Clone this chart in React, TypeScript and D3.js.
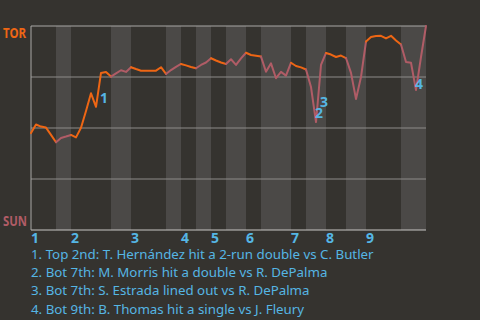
import React from "react";
import * as d3 from "d3";

// Plate appearances per half inning (top 1, bottom 1, top 2, ...)
const halfInningPAs = [5, 3, 8, 4, 7, 3, 3, 3, 3, 4, 3, 6, 3, 4, 4, 4, 7, 5];
const inningLabels = ["1", "2", "3", "4", "5", "6", "7", "8", "9"];

// TOR win probability (%) after each plate appearance
const torWinPct = [
  47.5, 51.7, 50.7, 50.2, 46.6, 43.0, 45.1, 45.8, 46.6, 45.4,
  50.1, 58.3, 67.0, 60.4, 77.0, 77.5, 75.2, 76.8, 78.3, 77.5,
  79.8, 78.9, 78.1, 78.1, 78.1, 78.1, 79.8, 76.5, 78.4, 80.0,
  81.4, 80.7, 79.9, 79.3, 80.9, 82.1, 84.2, 83.1, 82.1, 81.4,
  83.7, 80.9, 84.1, 86.9, 85.8, 85.4, 85.0, 77.6, 81.7, 74.4,
  77.5, 75.7, 82.0, 80.4, 79.7, 78.7, 70.1, 52.9, 80.9, 86.8,
  86.0, 84.8, 85.5, 84.3, 77.0, 64.2, 75.0, 92.4, 94.6, 95.1,
  95.2, 93.9, 95.2, 92.9, 90.9, 82.4, 82.0, 68.6, 84.8, 100,
];

const teamTop = "TOR";
const teamBottom = "SUN";

const annotationEvents = [14, 57, 58, 77];
const annotationTexts = [
  "1. Top 2nd: T. Hernández hit a 2-run double vs C. Butler",
  "2. Bot 7th: M. Morris hit a double vs R. DePalma",
  "3. Bot 7th: S. Estrada lined out vs R. DePalma",
  "4. Bot 9th: B. Thomas hit a single vs J. Fleury",
];

const W = 480;
const H = 320;
const BG = "#35332f";
const BAND = "#4b4947";
const ORANGE = "#ee6614";
const PINK = "#b05c66";
const BLUE = "#55b6e4";
const FONT = "'Noto Sans', sans-serif";

export default function App() {
  const n = torWinPct.length - 1;
  const x = d3.scaleLinear().domain([0, n]).range([31, 426]);
  const y = d3.scaleLinear().domain([0, 100]).range([230, 26]);

  // half-inning boundaries
  const bounds: number[] = [0];
  halfInningPAs.forEach((c) => bounds.push(bounds[bounds.length - 1] + c));

  const segs = halfInningPAs.map((_, h) => {
    const s = bounds[h];
    const e = bounds[h + 1];
    const idx = d3.range(s, e + 1);
    const path = d3
      .line<number>()
      .x((i) => x(i))
      .y((i) => y(torWinPct[i]))(idx);
    return { path, top: h % 2 === 0 };
  });

  return (
    <svg
      width={W}
      height={H}
      style={{ position: "fixed", left: 0, top: 0, display: "block" }}
    >
      <rect x={0} y={0} width={W} height={H} fill={BG} />
      {halfInningPAs.map((_, h) =>
        h % 2 === 1 ? (
          <rect
            key={"b" + h}
            x={x(bounds[h])}
            y={y(100)}
            width={x(bounds[h + 1]) - x(bounds[h])}
            height={y(0) - y(100)}
            fill={BAND}
          />
        ) : null
      )}
      {[25, 50, 75].map((v) => (
        <line
          key={"g" + v}
          x1={x(0)}
          x2={x(n)}
          y1={y(v)}
          y2={y(v)}
          stroke="#8e8c8a"
          strokeWidth={1}
        />
      ))}
      <line x1={x(0)} x2={x(n)} y1={y(100)} y2={y(100)} stroke="#a9a8a6" strokeWidth={1} />
      <line x1={x(0)} x2={x(n)} y1={y(0)} y2={y(0)} stroke="#c8c7c5" strokeWidth={1} />
      <line x1={x(0)} x2={x(0)} y1={y(100)} y2={y(0)} stroke="#a9a8a6" strokeWidth={1} />
      {segs.map((s, i) => (
        <path
          key={"s" + i}
          d={s.path || ""}
          fill="none"
          stroke={s.top ? ORANGE : PINK}
          strokeWidth={2}
          strokeLinejoin="round"
          strokeLinecap="round"
        />
      ))}
      {annotationEvents.map((ev, i) => {
        const mx = (x(ev - 1) + x(ev)) / 2;
        const my = (y(torWinPct[ev - 1]) + y(torWinPct[ev])) / 2;
        return (
          <text
            key={"a" + i}
            x={mx + 1.5}
            y={my + 13}
            fill={BLUE}
            fontFamily={FONT}
            fontWeight="bold"
            fontSize={14}
          >
            {i + 1}
          </text>
        );
      })}
      <text
        x={3}
        y={38}
        textLength={23}
        lengthAdjust="spacingAndGlyphs"
        fill={ORANGE}
        fontFamily={FONT}
        fontWeight="bold"
        fontSize={14}
      >
        {teamTop}
      </text>
      <text
        x={3}
        y={226}
        textLength={24}
        lengthAdjust="spacingAndGlyphs"
        fill={PINK}
        fontFamily={FONT}
        fontWeight="bold"
        fontSize={14}
      >
        {teamBottom}
      </text>
      {inningLabels.map((lab, k) => (
        <text
          key={"i" + k}
          x={x(bounds[k * 2])}
          y={243}
          fill={BLUE}
          fontFamily={FONT}
          fontWeight="bold"
          fontSize={14}
        >
          {lab}
        </text>
      ))}
      {annotationTexts.map((t, i) => (
        <text
          key={"t" + i}
          x={31}
          y={258.5 + i * 18.4}
          fill={BLUE}
          fontFamily={FONT}
          fontSize={13.3}
        >
          {t}
        </text>
      ))}
    </svg>
  );
}
